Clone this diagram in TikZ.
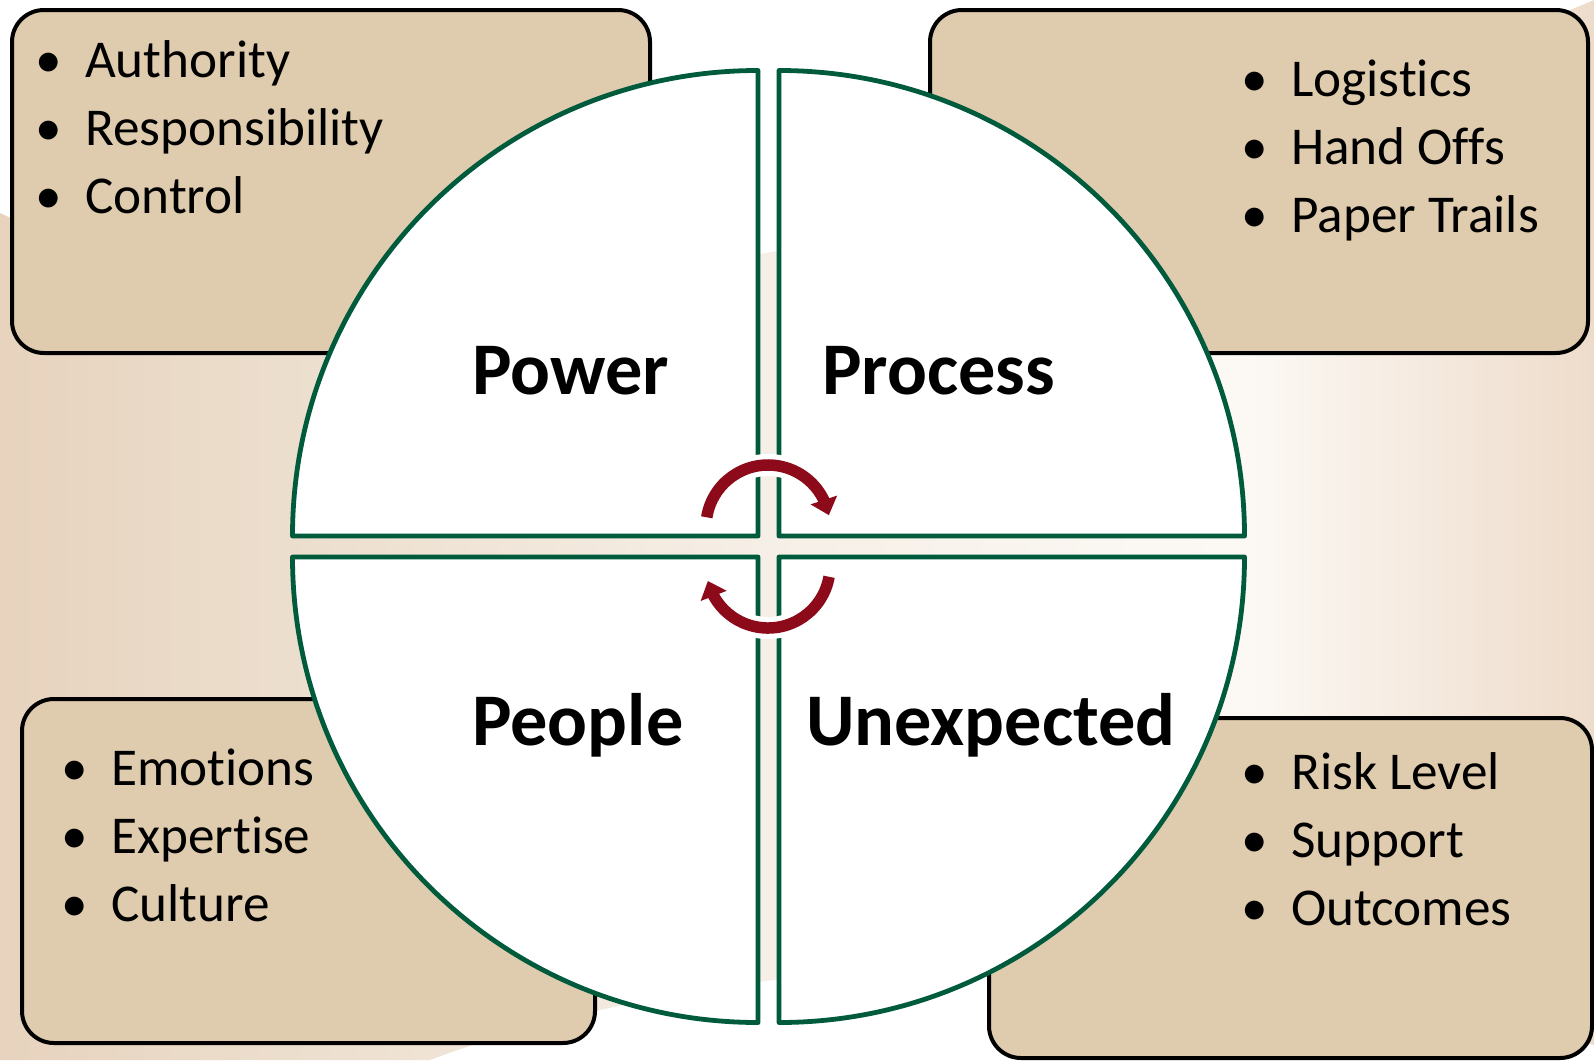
\documentclass[tikz,border=0pt]{standalone}
\usepackage{fontspec}
\setmainfont{Carlito}[Ligatures=NoCommon]
\usepackage{tikz}
\usetikzlibrary{arrows.meta,bending,calc}

\definecolor{boxtan}{RGB}{223,203,173}
\definecolor{quadgreen}{RGB}{0,90,60}
\definecolor{turnred}{RGB}{140,10,25}
\definecolor{bgA}{RGB}{231,211,190}
\definecolor{bgB}{RGB}{236,222,205}
\definecolor{bgC}{RGB}{246,239,231}
\definecolor{bgD}{RGB}{252,249,245}
\definecolor{bgE}{RGB}{238,220,203}

% pale band behind the whole chart
\pgfdeclarehorizontalshading{bgband}{100bp}{color(0bp)=(bgA); color(25bp)=(bgA);
	color(34bp)=(bgB); color(49bp)=(bgC); color(64bp)=(bgD); color(75bp)=(bgE); color(100bp)=(bgE)}

% bullet hung left of an entry
\newcommand{\blt}{\llap{\makebox[0pt]{\textbullet}\hspace{36.5pt}}}

\begin{document}
\begin{tikzpicture}
		[x=1pt,y=-1pt,
		box/.style={draw=black,line width=4pt,fill=boxtan,rounded corners=32pt},
		quad/.style={draw=quadgreen,line width=4.8pt,fill=white,line join=round},
		title/.style={anchor=base west,inner sep=0pt,font=\fontsize{74.3}{80}\selectfont\bfseries},
		entry/.style={anchor=base west,inner sep=0pt,font=\fontsize{53.2}{60}\selectfont,execute at begin node=\blt},
		turn/.style={draw=turnred,line width=11.5pt,-{Triangle[width=27pt,length=16pt]}},
		halo/.style={draw=white,line width=22pt}]

		\useasboundingbox (0,0) rectangle (1594,1060);

		\shade[shading=bgband] (0,213) .. controls (350,380) and (1000,250) .. (1594,0)
			-- (1594,1045) .. controls (1250,930) and (750,940) .. (430,1060)
			-- (0,1060) -- cycle;

		% corner boxes
		\draw[box] (12,10) rectangle (650,353);
		\draw[box] (930,10) rectangle (1588,353);
		\draw[box] (22,699) rectangle (595,1043);
		\draw[box] (989,718) rectangle (1592,1058);

		% the four quarters
		\draw[quad] (758,536) -- (292.5,536) arc[start angle=180,end angle=90,radius=465.5pt] -- cycle;
		\draw[quad] (779,536) -- (779,70.5) arc[start angle=90,end angle=0,radius=465.5pt] -- cycle;
		\draw[quad] (758,557) -- (758,1022.5) arc[start angle=270,end angle=180,radius=465.5pt] -- cycle;
		\draw[quad] (779,557) -- (1244.5,557) arc[start angle=0,end angle=-90,radius=465.5pt] -- cycle;

		\node[title] (power) at (472,394) {Power};
		\node[title] (process) at (822,394) {Process};
		\node[title] (people) at (472,745) {People};
		\node[title] (unexp) at (806,745) {Unexpected};

		\node[entry] (pw1) at (85,77) {Authority};
		\node[entry] (pw2) at (85,145) {Responsibility};
		\node[entry] (pw3) at (85,213) {Control};

		\node[entry] (pr1) at (1291,96) {Logistics};
		\node[entry] (pr2) at (1291,164) {Hand Offs};
		\node[entry] (pr3) at (1291,232) {Paper Trails};

		\node[entry] (pe1) at (111,785) {Emotions};
		\node[entry] (pe2) at (111,853) {Expertise};
		\node[entry] (pe3) at (111,921) {Culture};

		\node[entry] (un1) at (1291,789) {Risk Level};
		\node[entry] (un2) at (1291,857) {Support};
		\node[entry] (un3) at (1291,925) {Outcomes};

		% turning arrows in the middle
		\coordinate (up) at (768,527);
		\coordinate (lo) at (768,566);
		\draw[halo] ($(up)+(171:62pt)$) arc[start angle=171,end angle=40,radius=62pt];
		\draw[halo] ($(lo)+(-10:62pt)$) arc[start angle=-10,end angle=-140,radius=62pt];
		\draw[turn] ($(up)+(171:62pt)$) arc[start angle=171,end angle=11,radius=62pt];
		\draw[turn] ($(lo)+(-10:62pt)$) arc[start angle=-10,end angle=-166,radius=62pt];
\end{tikzpicture}
\end{document}
